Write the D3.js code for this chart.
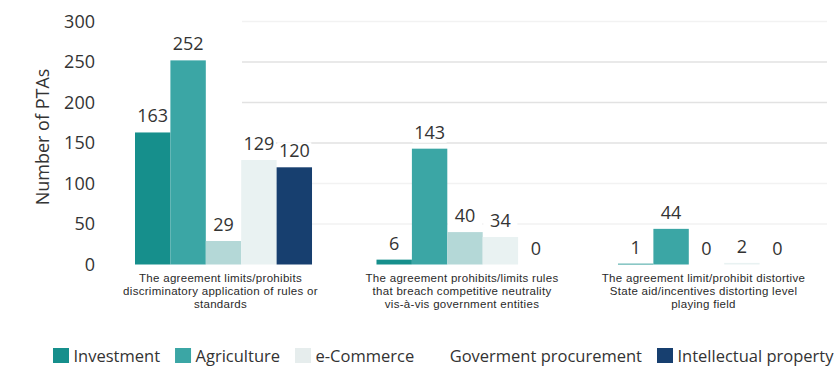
<!DOCTYPE html>
<html>
<head>
<meta charset="utf-8">
<script src="https://cdn.jsdelivr.net/npm/d3@7"></script>
<style>
  html, body { margin: 0; padding: 0; background: #ffffff; }
  svg { display: block; font-family: "Open Sans", sans-serif; }
</style>
</head>
<body>
<svg id="chart" width="834" height="366"></svg>
<script>
// ---- data ----
const categories = [
  ["The agreement limits/prohibits", "discriminatory application of rules or", "standards"],
  ["The agreement prohibits/limits rules", "that breach competitive neutrality", "vis-à-vis government entities"],
  ["The agreement limit/prohibit distortive", "State aid/incentives distorting level", "playing field"]
];
const series = ["Investment", "Agriculture", "e-Commerce", "Goverment procurement", "Intellectual property"];
const investment   = [163, 6, 1];
const agriculture  = [252, 143, 44];
const eCommerce    = [29, 40, 0];
const govProcure   = [129, 34, 2];
const intellectual = [120, 0, 0];
const yTicks = [0, 50, 100, 150, 200, 250, 300];
const yTitle = "Number of PTAs";

const values = [investment, agriculture, eCommerce, govProcure, intellectual];
const colors = ["#168f8c", "#3ba6a5", "#b4d8d7", "#e9f2f2", "#173f6f"];
const legendSwatch = ["#168f8c", "#3ba6a5", "#e6eded", "#ffffff", "#173f6f"];

const svg = d3.select("#chart");
const catIdx = categories.map((d, i) => i);

const y = d3.scaleLinear().domain([0, 300]).range([264.5, 21.5]);
const x0 = d3.scaleBand().domain(catIdx).range([135, 795]).paddingInner(0.267).paddingOuter(0);
const x1 = d3.scaleBand().domain(series).range([0, x0.bandwidth()]).padding(0);

// gridlines
const grid = svg.append("g");
grid.selectAll("line").data(yTicks.filter(t => t > 0)).join("line")
  .attr("x1", 242).attr("x2", 827)
  .attr("y1", d => y(d)).attr("y2", d => y(d))
  .attr("stroke", d => (d >= 150 && d <= 250) ? "#e2e2e2" : "#f2f2f2")
  .attr("stroke-width", 1.5);

// y axis (labels only)
const yAxis = svg.append("g").attr("transform", "translate(95,0)")
  .call(d3.axisLeft(y).tickValues(yTicks).tickSize(0).tickPadding(0));
yAxis.select(".domain").remove();
yAxis.selectAll("text").attr("font-size", 18).attr("fill", "#333")
  .attr("font-family", "Open Sans, sans-serif");

svg.append("text")
  .attr("transform", "translate(49,137) rotate(-90)")
  .attr("text-anchor", "middle")
  .attr("font-size", 18).attr("fill", "#333")
  .text(yTitle);

// bars
const rows = [];
catIdx.forEach(c => series.forEach((s, si) => rows.push({c, s, si, v: values[si][c]})));

const gBars = svg.append("g");
gBars.selectAll("rect").data(rows).join("rect")
  .attr("x", d => x0(d.c) + x1(d.s))
  .attr("width", x1.bandwidth())
  .attr("y", d => y(d.v))
  .attr("height", d => y(0) - y(d.v))
  .attr("fill", d => colors[d.si]);

// value labels with white background
const gLab = svg.append("g");
const labs = gLab.selectAll("g").data(rows).join("g")
  .attr("transform", d => `translate(${x0(d.c) + x1(d.s) + x1.bandwidth() / 2},${y(d.v) - 10})`);
labs.append("rect").attr("x", -17).attr("y", -15).attr("width", 34).attr("height", 19).attr("fill", "#fff");
labs.append("text")
  .attr("text-anchor", "middle")
  .attr("font-size", 18).attr("fill", "#333")
  .text(d => d.v);

// category labels
const gCat = svg.append("g");
categories.forEach((lines, c) => {
  const cx = x0(c) + x0.bandwidth() / 2 - 3;
  lines.forEach((ln, i) => {
    gCat.append("text")
      .attr("x", cx)
      .attr("y", 282 + i * 13)
      .attr("text-anchor", "middle")
      .attr("font-family", "Liberation Sans, Arial, sans-serif")
      .attr("font-size", 11.5).attr("letter-spacing", 0.3).attr("fill", "#2a2a2a")
      .text(ln);
  });
});

// legend
const gLeg = svg.append("g");
let lx = 53;
series.forEach((s, i) => {
  gLeg.append("rect").attr("x", lx).attr("y", 348).attr("width", 16).attr("height", 15).attr("fill", legendSwatch[i]);
  const t = gLeg.append("text").attr("x", lx + 20.5).attr("y", 362)
    .attr("font-size", 16.5).attr("fill", "#333").text(s);
  lx = lx + 20.5 + t.node().getComputedTextLength() + 15;
});
</script>
</body>
</html>
